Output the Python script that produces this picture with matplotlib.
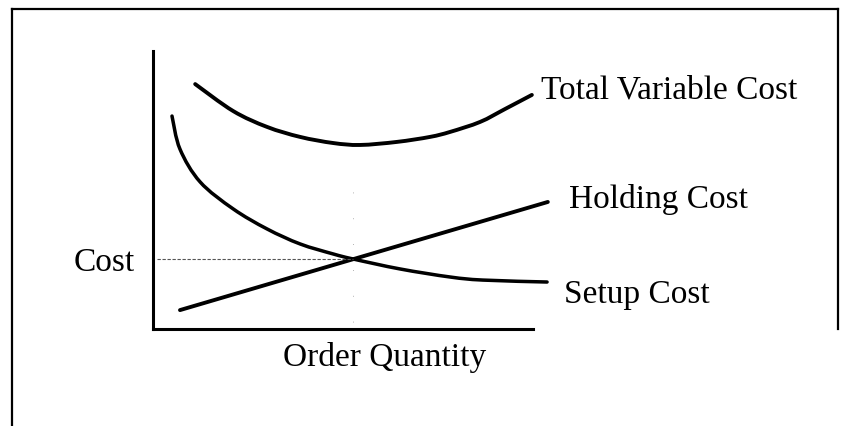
import matplotlib
matplotlib.use("Agg")
import matplotlib.pyplot as plt
from matplotlib.lines import Line2D
from matplotlib.path import Path
from matplotlib.patches import PathPatch

# Conceptual EOQ chart: order quantity (x) vs cost (y), arbitrary units
setup_q = [0.5, 0.71, 1.24, 2.11, 3.0, 3.87, 4.74, 5.26, 6.5, 7.82, 8.68, 10.37]
setup_cost = [7.66, 6.47, 5.29, 4.32, 3.6, 3.06, 2.70, 2.52, 2.16, 1.87, 1.76, 1.69]

holding_q = [0.71, 10.39]
holding_cost = [0.68, 4.57]

total_q = [1.11, 2.11, 3.0, 3.87, 4.74, 5.45, 6.42, 7.29, 7.82, 8.61, 9.26, 9.97]
total_cost = [8.81, 7.84, 7.27, 6.91, 6.69, 6.62, 6.73, 6.91, 7.09, 7.45, 7.91, 8.42]

# where setup and holding cost meet
cross_q = 5.26
cross_cost = 2.52

curve_labels = ["Total Variable Cost", "Holding Cost", "Setup Cost"]
label_pos = [(10.21, 8.63), (10.95, 4.68), (10.82, 1.26)]


def smooth_path(xs, ys):
    """Bezier path through the points (Catmull-Rom tangents), for drawing only."""
    pts = list(zip(xs, ys))
    verts = [pts[0]]
    codes = [Path.MOVETO]
    for i in range(len(pts) - 1):
        p0 = pts[max(i - 1, 0)]
        p1, p2 = pts[i], pts[i + 1]
        p3 = pts[min(i + 2, len(pts) - 1)]
        c1 = (p1[0] + (p2[0] - p0[0]) / 6, p1[1] + (p2[1] - p0[1]) / 6)
        c2 = (p2[0] - (p3[0] - p1[0]) / 6, p2[1] - (p3[1] - p1[1]) / 6)
        verts += [c1, c2, p2]
        codes += [Path.CURVE4] * 3
    return Path(verts, codes)


W, H = 844, 427
fig = plt.figure(figsize=(W / 100, H / 100), dpi=100)
fig.patch.set_facecolor("white")

# axes placed so the axis lines sit where the reference draws them
left, bottom = 153 / W, (H - 330) / H
ax = fig.add_axes([left, bottom, 456 / W, 278 / H])
ax.set_xlim(0, 12)
ax.set_ylim(0, 10)
ax.set_facecolor("none")
for side in ("top", "right"):
    ax.spines[side].set_visible(False)
ax.spines["left"].set_linewidth(2.2)
ax.spines["bottom"].set_linewidth(2.2)
ax.spines["bottom"].set_bounds(0, 10)
ax.set_xticks([])
ax.set_yticks([])

lw = 2.8
for xs, ys, w in [(total_q, total_cost, lw), (setup_q, setup_cost, lw * 0.9)]:
    ax.add_patch(PathPatch(smooth_path(xs, ys), facecolor="none", edgecolor="black",
                           lw=w, capstyle="round", clip_on=False))
ax.plot(holding_q, holding_cost, color="black", lw=lw, solid_capstyle="round",
        clip_on=False)

# faint guide lines to the crossing point
ax.plot([0.1, cross_q], [cross_cost, cross_cost], color="#555555", lw=0.8,
        linestyle=(0, (3, 1.5)))
ax.plot([cross_q, cross_q], [0.25, 5.2], color="#999999", lw=0.6,
        linestyle=(0, (1, 30)))

font = "Liberation Serif"
fs = 24
for text, (x, y) in zip(curve_labels, label_pos):
    ax.text(x, y, text, family=font, fontsize=fs, ha="left", va="center",
            clip_on=False)
ax.text(-1.29, 2.41, "Cost", family=font, fontsize=fs, ha="center", va="center")
ax.text(6.1, -1.0, "Order Quantity", family=font, fontsize=fs, ha="center",
        va="center")

# outer frame of the scanned figure
def px(x, y):
    return x / W, 1 - y / H

frame_kw = dict(color="black", lw=1.6, transform=fig.transFigure)
for (x0, y0), (x1, y1) in [((12, 10), (838, 10)), ((12, 10), (12, 427)),
                           ((838, 10), (838, 330))]:
    (fx0, fy0), (fx1, fy1) = px(x0, y0), px(x1, y1)
    fig.add_artist(Line2D([fx0, fx1], [fy0, fy1], **frame_kw))

fig.savefig("out.png", dpi=100)
